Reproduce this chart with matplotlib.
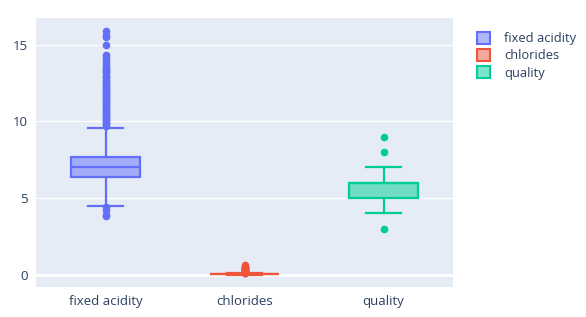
import matplotlib
matplotlib.use("Agg")
import matplotlib.pyplot as plt
from matplotlib.patches import Patch
from matplotlib.colors import to_rgba

# box statistics
names = ["fixed acidity", "chlorides", "quality"]
colors = ["#636efa", "#EF553B", "#00cc96"]
q1 = [6.4, 0.038, 5]
med = [7.0, 0.047, 6]
q3 = [7.7, 0.065, 6]
whis_lo = [4.5, 0.009, 4]
whis_hi = [9.6, 0.105, 7]

fliers_acidity = [3.8, 3.9, 4.2, 4.4,
                  9.7, 9.8, 9.9, 10.0, 10.1, 10.2, 10.3, 10.4, 10.5, 10.6, 10.7,
                  10.8, 10.9, 11.0, 11.1, 11.2, 11.3, 11.4, 11.5, 11.6, 11.7,
                  11.8, 11.9, 12.0, 12.1, 12.2, 12.3, 12.4, 12.5, 12.6, 12.7,
                  12.8, 12.9, 13.0, 13.2, 13.3, 13.4, 13.5, 13.7, 13.8, 14.0,
                  14.2, 14.3, 15.0, 15.5, 15.6, 15.9]
fliers_chlorides = [0.11, 0.12, 0.13, 0.15, 0.17, 0.2, 0.23, 0.27, 0.3, 0.34,
                    0.37, 0.41, 0.42, 0.46, 0.47, 0.52, 0.61]
fliers_quality = [3, 8, 9]
fliers = [fliers_acidity, fliers_chlorides, fliers_quality]

fig = plt.figure(figsize=(5.86, 3.17), dpi=100)
ax = fig.add_axes([36 / 586, 1 - 287 / 317, (453 - 36) / 586, (287 - 18) / 317])
ax.set_facecolor("#E5ECF6")

for i in range(len(names)):
    stats = [dict(q1=q1[i], med=med[i], q3=q3[i], whislo=whis_lo[i],
                  whishi=whis_hi[i], fliers=fliers[i])]
    c = colors[i]
    ax.bxp(stats, positions=[i], widths=0.5, patch_artist=True,
           showfliers=True, manage_ticks=False,
           boxprops=dict(facecolor=to_rgba(c, 0.5), edgecolor=c, linewidth=1.6),
           medianprops=dict(color=c, linewidth=1.6),
           whiskerprops=dict(color=c, linewidth=1.6),
           capprops=dict(color=c, linewidth=1.6),
           capwidths=0.25,
           flierprops=dict(marker="o", markerfacecolor=c, markeredgecolor=c,
                           markersize=4.5, linestyle="none"),
           zorder=3)

ax.set_xlim(-0.5, 2.5)
ax.set_ylim(-0.8, 16.74)
ax.set_xticks(range(len(names)))
ax.set_xticklabels(names)
ax.set_yticks([0, 5, 10, 15])
ax.grid(axis="y", color="white", linewidth=1, zorder=0)
ax.axhline(0, color="white", linewidth=2, zorder=1)
ax.set_axisbelow(True)
for s in ax.spines.values():
    s.set_visible(False)
ax.tick_params(length=0, labelsize=9.5, colors="#2a3f5f", pad=6)
for lab in ax.get_xticklabels() + ax.get_yticklabels():
    lab.set_fontfamily("Open Sans")

handles = [Patch(facecolor=to_rgba(c, 0.5), edgecolor=c, linewidth=1.5, label=n)
           for c, n in zip(colors, names)]
leg = fig.legend(handles=handles, loc="upper left", bbox_to_anchor=(472 / 586, 1 - 27 / 317),
                 frameon=False, prop=dict(family="Open Sans", size=9.3),
                 handlelength=1.0, handleheight=1.0, handletextpad=1.1,
                 labelspacing=0.3, borderaxespad=0)
for t in leg.get_texts():
    t.set_color("#2a3f5f")

fig.savefig("out.png", dpi=100, facecolor="white")
